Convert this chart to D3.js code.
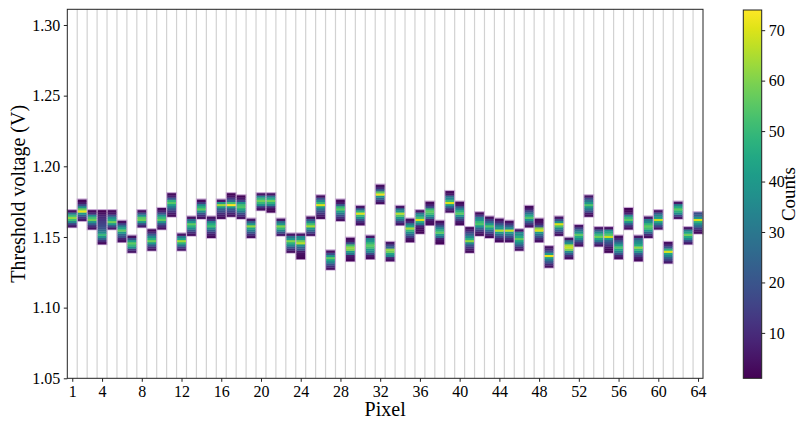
<!DOCTYPE html>
<html><head><meta charset="utf-8">
<script src="https://cdn.jsdelivr.net/npm/d3@7"></script>
<style>
body{margin:0;background:#fff}
svg{display:block}
text{font-family:"Liberation Serif","Times New Roman",serif;fill:#000}
</style>
</head><body><div id="chart"></div>
<script>
// ---------------- data ----------------
const pixels = [1,2,3,4,5,6,7,8,9,10,11,12,13,14,15,16,17,18,19,20,21,22,23,24,25,26,27,28,29,30,31,32,
                33,34,35,36,37,38,39,40,41,42,43,44,45,46,47,48,49,50,51,52,53,54,55,56,57,58,59,60,61,62,63,64];
const xTickValues = [1,4,8,12,16,20,24,28,32,36,40,44,48,52,56,60,64];
const yTickValues = [1.05,1.10,1.15,1.20,1.25,1.30];
const colorTickValues = [10,20,30,40,50,60,70];
const binOrigin = 1.1;      // V
const binWidth = 0.0015;    // V
// index of the lowest filled voltage bin of each pixel
const binStart = [38,41,37,30,37,31,26,38,27,37,43,27,34,42,33,42,43,42,33,46,45,34,26,23,34,42,18,41,22,39,23,49,
                  22,39,31,35,39,30,45,39,26,34,33,31,31,27,38,31,19,34,23,29,43,29,26,23,37,22,33,37,21,42,30,35];
// counts per voltage bin, from lowest bin upward
const counts = [
  [5,15,35,52,62,50,30,4],
  [6,12,22,40,72,58,38,18,6,2],
  [4,10,22,38,58,52,36,10,3],
  [3,10,24,38,50,36,28,20,18,16,14,12,10,8,4,1],
  [6,18,40,58,45,36,20,6,3],
  [4,8,18,25,40,56,44,32,16,4],
  [5,12,38,50,56,42,20,4],
  [6,18,40,58,55,38,20,4],
  [4,10,22,40,58,48,36,22,10,3],
  [4,10,20,38,56,50,38,20,8,3],
  [3,6,12,20,30,42,55,48,22,8,3],
  [5,14,30,48,64,44,30,5],
  [4,10,20,36,48,56,40,26,4],
  [4,10,20,38,56,48,36,14,3],
  [3,6,12,22,36,52,46,34,12,4],
  [3,6,10,18,24,40,64,40,5],
  [4,8,16,22,40,74,52,26,14,5,2],
  [4,10,18,32,44,54,52,38,16,6,2],
  [4,10,20,32,44,62,40,24,5],
  [4,12,36,50,58,50,34,5],
  [2,3,10,34,48,58,46,30,5],
  [6,18,34,50,60,40,28,5],
  [4,10,20,36,48,60,40,28,5],
  [2,3,4,6,18,24,38,66,58,40,34,5],
  [5,14,26,40,64,52,36,20,4],
  [3,6,12,18,28,40,70,50,36,20,4],
  [4,10,20,34,44,56,38,18,4],
  [4,10,18,30,42,56,50,22,6,3],
  [2,4,6,30,40,60,62,52,20,6,3],
  [4,10,20,36,50,70,48,26,5],
  [3,6,18,34,40,52,56,50,40,34,5],
  [4,12,24,38,72,56,24,10,4],
  [4,8,34,44,58,62,26,16,5],
  [5,14,28,40,54,66,40,30,5],
  [3,5,14,24,36,50,64,44,30,10,4],
  [2,3,4,8,30,45,70,52,40,30,5],
  [3,4,8,26,40,52,56,50,18,8,3],
  [2,4,8,26,40,56,48,36,22,10,4],
  [4,10,22,40,70,50,36,28,6,3],
  [3,6,14,24,40,56,48,36,22,6,3],
  [3,6,12,20,36,62,48,36,24,16,8,3],
  [3,6,14,24,40,54,50,38,32,14,3],
  [3,8,16,26,42,54,40,24,14,4],
  [3,8,16,26,40,66,40,34,20,10,4],
  [4,10,18,28,40,68,38,24,12,4],
  [4,10,22,34,44,56,46,36,34,5],
  [4,12,22,38,54,44,30,18,8,3],
  [4,10,18,28,40,70,62,20,8,4,3],
  [4,10,20,30,42,72,40,20,10,4],
  [4,10,22,36,54,70,38,20,5],
  [4,10,22,36,60,68,64,38,28,5],
  [4,10,20,36,46,56,40,30,16,5],
  [3,6,18,30,40,54,40,30,18,5],
  [5,14,30,44,58,50,36,22,5],
  [2,3,5,12,18,24,40,68,54,46,36,4],
  [4,8,20,32,44,54,42,30,20,10,4],
  [4,10,22,40,56,50,34,8,3,2],
  [3,6,14,22,38,50,62,46,38,34,24,5],
  [4,10,24,40,52,56,50,36,30,5],
  [5,16,30,44,68,42,34,22,5],
  [6,14,22,34,44,70,48,22,10,4],
  [5,16,36,48,56,46,32,5],
  [6,16,34,46,58,44,32,5],
  [3,6,14,26,36,48,70,38,24,18]
];

// ---------------- layout ----------------
const W = 801, H = 421;
const plot = {left: 67.3, right: 703, top: 9.3, bottom: 378.3};
const cbar = {left: 743.3, right: 761.7, top: 10, bottom: 378.3};

const svg = d3.select("#chart").append("svg").attr("width", W).attr("height", H);
svg.append("rect").attr("width", W).attr("height", H).attr("fill", "#fff");

const x = d3.scaleLinear().domain([0.5, 64.5]).range([plot.left, plot.right]);
const y = d3.scaleLinear().domain([1.05, 1.3111]).range([plot.bottom, plot.top]);

const allCounts = counts.flat();
const color = d3.scaleSequential(d3.interpolateViridis).domain(d3.extent(allCounts));

// grid lines between pixels
const gridPos = pixels.slice(0, -1).map(p => p + 0.5);
svg.append("g").selectAll("line").data(gridPos).join("line")
  .attr("x1", d => x(d)).attr("x2", d => x(d))
  .attr("y1", plot.top).attr("y2", plot.bottom)
  .attr("stroke", "#d2d2d2").attr("stroke-width", 1.2);

// cells
const cells = [];
pixels.forEach((p, i) => {
  counts[i].forEach((c, j) => {
    if (c > 0) {
      const v0 = binOrigin + (binStart[i] + j) * binWidth;
      cells.push({p, v0, v1: v0 + binWidth, c});
    }
  });
});
const half = 0.44;
const gCells = svg.append("g");
// lavender outline of each pixel column
gCells.selectAll("rect.outline").data(pixels).join("rect").attr("class", "outline")
  .attr("x", (p) => x(p - half) - 0.5)
  .attr("width", (p) => x(p + half) - x(p - half) + 1)
  .attr("y", (p, i) => y(binOrigin + (binStart[i] + counts[i].length) * binWidth) - 0.5)
  .attr("height", (p, i) => y(binOrigin + binStart[i] * binWidth) - y(binOrigin + (binStart[i] + counts[i].length) * binWidth) + 1)
  .attr("fill", "none").attr("stroke", "#c8a9d4").attr("stroke-width", 1.2);
gCells.selectAll("rect.cell").data(cells).join("rect").attr("class", "cell")
  .attr("x", d => x(d.p - half))
  .attr("width", d => x(d.p + half) - x(d.p - half))
  .attr("y", d => y(d.v1))
  .attr("height", d => y(d.v0) - y(d.v1) + 0.35)
  .attr("fill", d => color(d.c));

// frame
svg.append("rect").attr("x", plot.left).attr("y", plot.top)
  .attr("width", plot.right - plot.left).attr("height", plot.bottom - plot.top)
  .attr("fill", "none").attr("stroke", "#222").attr("stroke-width", 1);

// axes
const xAxis = d3.axisBottom(x).tickValues(xTickValues).tickFormat(d3.format("d")).tickSize(3.5).tickPadding(3.5);
const gx = svg.append("g").attr("transform", `translate(0,${plot.bottom})`).call(xAxis);
const yAxis = d3.axisLeft(y).tickValues(yTickValues).tickFormat(d3.format(".2f")).tickSize(3.5).tickPadding(3.5);
const gy = svg.append("g").attr("transform", `translate(${plot.left},0)`).call(yAxis);
[gx, gy].forEach(g => {
  g.select(".domain").remove();
  g.selectAll(".tick line").attr("stroke", "#222");
  g.selectAll(".tick text").style("font-family", '"Liberation Serif",serif').style("font-size", "16px").attr("fill", "#000");
});

svg.append("text").attr("x", (plot.left + plot.right) / 2).attr("y", 416)
  .attr("text-anchor", "middle").style("font-size", "20px").text("Pixel");
svg.append("text").attr("transform", `translate(25,${(plot.top + plot.bottom) / 2}) rotate(-90)`)
  .attr("text-anchor", "middle").style("font-size", "20px").text("Threshold voltage (V)");

// colorbar
const defs = svg.append("defs");
const grad = defs.append("linearGradient").attr("id", "vir").attr("x1", 0).attr("x2", 0).attr("y1", 1).attr("y2", 0);
d3.range(0, 1.0001, 0.05).forEach(t => grad.append("stop").attr("offset", t).attr("stop-color", d3.interpolateViridis(t)));
svg.append("rect").attr("x", cbar.left).attr("y", cbar.top)
  .attr("width", cbar.right - cbar.left).attr("height", cbar.bottom - cbar.top)
  .attr("fill", "url(#vir)").attr("stroke", "#222").attr("stroke-width", 1);
const cy = d3.scaleLinear().domain(color.domain()).range([cbar.bottom, cbar.top]);
const cAxis = d3.axisRight(cy).tickValues(colorTickValues).tickSize(3.5).tickPadding(3.5);
const gc = svg.append("g").attr("transform", `translate(${cbar.right},0)`).call(cAxis);
gc.select(".domain").remove();
gc.selectAll(".tick line").attr("stroke", "#222");
gc.selectAll(".tick text").style("font-family", '"Liberation Serif",serif').style("font-size", "16px").attr("fill", "#000");
svg.append("text").attr("transform", `translate(795,${(cbar.top + cbar.bottom) / 2}) rotate(-90)`)
  .attr("text-anchor", "middle").style("font-size", "19px").text("Counts");
</script>
</body></html>
